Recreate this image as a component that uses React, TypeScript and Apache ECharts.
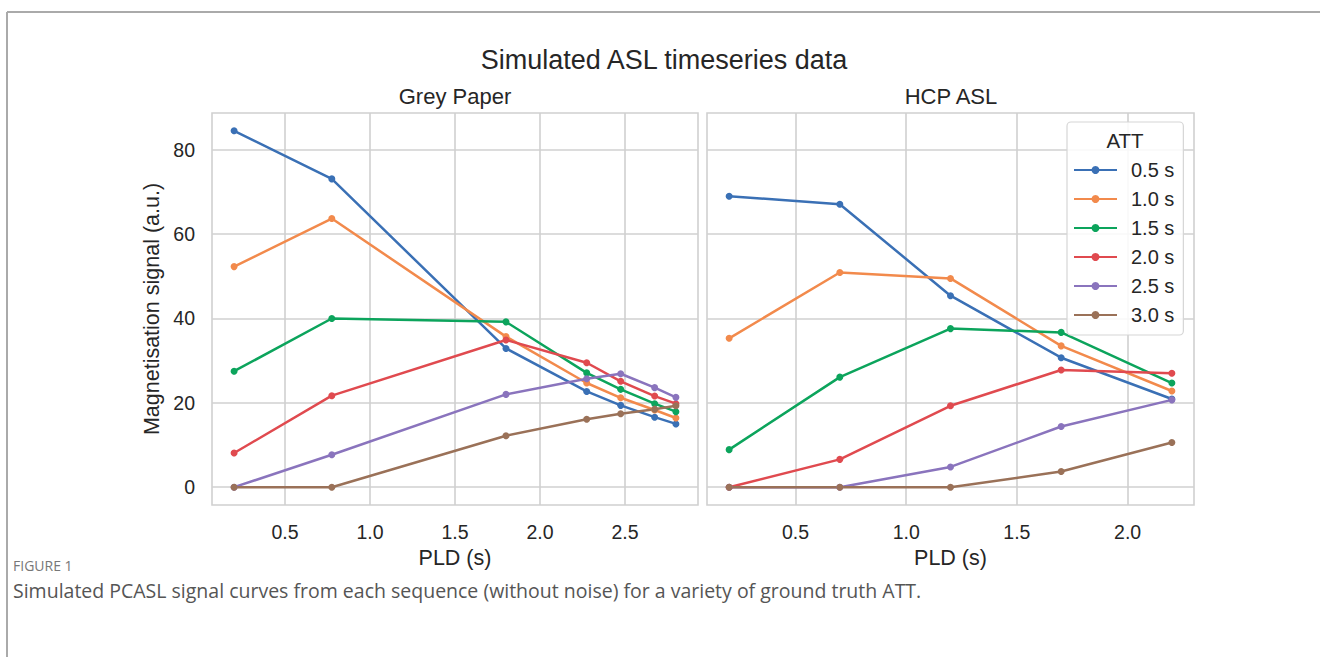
import React, { useEffect, useRef } from "react";
import * as echarts from "echarts";

const attLabels = ["0.5 s", "1.0 s", "1.5 s", "2.0 s", "2.5 s", "3.0 s"];
const colors = ["#3a70b5", "#f28a4c", "#0ca45c", "#e04a4f", "#8a74bd", "#9a7158"];

const greyPld = [0.2, 0.775, 1.8, 2.275, 2.475, 2.675, 2.8];
const greySignal = [
  [84.5, 73.1, 32.9, 22.7, 19.4, 16.6, 15.0],
  [52.3, 63.7, 35.7, 24.7, 21.2, 18.3, 16.4],
  [27.5, 40.0, 39.2, 27.1, 23.2, 19.8, 17.9],
  [8.1, 21.7, 34.9, 29.5, 25.1, 21.6, 19.8],
  [0.0, 7.7, 22.0, 25.7, 26.9, 23.6, 21.3],
  [0.0, 0.0, 12.2, 16.1, 17.4, 18.5, 19.3],
];

const hcpPld = [0.2, 0.7, 1.2, 1.7, 2.2];
const hcpSignal = [
  [69.0, 67.1, 45.4, 30.7, 20.9],
  [35.3, 50.9, 49.5, 33.5, 22.8],
  [8.9, 26.1, 37.6, 36.7, 24.7],
  [0.0, 6.6, 19.3, 27.8, 27.0],
  [0.0, 0.0, 4.8, 14.4, 20.7],
  [0.0, 0.0, 0.0, 3.7, 10.6],
];

const greyTicks = [0.5, 1.0, 1.5, 2.0, 2.5];
const hcpTicks = [0.5, 1.0, 1.5, 2.0];
const yTicks = [0, 20, 40, 60, 80];

const FONT = "'Liberation Sans', Arial, sans-serif";
const GRID_COLOR = "#d0d0d0";
const TEXT = "#262626";

function App() {
  const ref = useRef<HTMLDivElement>(null);
  useEffect(() => {
    document.body.style.margin = "0";
    const chart = echarts.init(ref.current!, null, { renderer: "svg" });

    const xAxisBase = (idx: number, min: number, max: number, ticks: number[]) => ({
      type: "value",
      gridIndex: idx,
      min,
      max,
      name: "PLD (s)",
      nameLocation: "middle",
      nameGap: 42,
      nameTextStyle: { fontSize: 21.5, color: TEXT, fontFamily: FONT },
      axisLine: { show: false },
      axisTick: { show: false, customValues: ticks },
      axisLabel: {
        customValues: ticks,
        fontSize: 19.5,
        color: TEXT,
        fontFamily: FONT,
        margin: 17,
        formatter: (v: number) => v.toFixed(1),
      },
      splitLine: { show: true, lineStyle: { color: GRID_COLOR, width: 1.6 } },
    });

    const yAxisBase = (idx: number, showLabels: boolean) => ({
      type: "value",
      gridIndex: idx,
      min: -4.225,
      max: 88.725,
      name: showLabels ? "Magnetisation signal (a.u.)" : "",
      nameLocation: "middle",
      nameGap: 49,
      nameTextStyle: { fontSize: 21.5, color: TEXT, fontFamily: FONT },
      axisLine: { show: false },
      axisTick: { show: false, customValues: yTicks },
      axisLabel: {
        show: showLabels,
        customValues: yTicks,
        fontSize: 19.5,
        color: TEXT,
        fontFamily: FONT,
        margin: 17,
      },
      splitLine: { show: true, lineStyle: { color: GRID_COLOR, width: 1.6 } },
    });

    const series: any[] = [];
    attLabels.forEach((name, i) => {
      series.push({
        type: "line",
        name,
        xAxisIndex: 0,
        yAxisIndex: 0,
        data: greyPld.map((x, j) => [x, greySignal[i][j]]),
        symbol: "circle",
        symbolSize: 7,
        color: colors[i],
        lineStyle: { width: 2.5, color: colors[i] },
        itemStyle: { color: colors[i] },
      });
    });
    attLabels.forEach((name, i) => {
      series.push({
        type: "line",
        name,
        xAxisIndex: 1,
        yAxisIndex: 1,
        data: hcpPld.map((x, j) => [x, hcpSignal[i][j]]),
        symbol: "circle",
        symbolSize: 7,
        color: colors[i],
        lineStyle: { width: 2.5, color: colors[i] },
        itemStyle: { color: colors[i] },
      });
    });

    chart.setOption({
      animation: false,
      backgroundColor: "#fff",
      grid: [
        { left: 212, top: 113, width: 486, height: 392, show: true, borderColor: GRID_COLOR, borderWidth: 1.6, backgroundColor: "transparent" },
        { left: 707, top: 113, width: 487, height: 392, show: true, borderColor: GRID_COLOR, borderWidth: 1.6, backgroundColor: "transparent" },
      ],
      xAxis: [xAxisBase(0, 0.07, 2.93, greyTicks), xAxisBase(1, 0.1, 2.3, hcpTicks)],
      yAxis: [yAxisBase(0, true), yAxisBase(1, false)],
      legend: {
        data: attLabels,
        orient: "vertical",
        left: 1067,
        top: 122,
        padding: [37, 9, 9, 6],
        itemWidth: 43,
        itemHeight: 10,
        itemGap: 7,
        backgroundColor: "rgba(255,255,255,0.85)",
        borderColor: "#d6d6d6",
        borderWidth: 1.2,
        borderRadius: 4,
        textStyle: { fontSize: 20, lineHeight: 22, color: TEXT, fontFamily: FONT, padding: [0, 0, 0, 9] },
      },
      graphic: [
        { type: "line", shape: { x1: 7, y1: 12, x2: 1320, y2: 12 }, style: { stroke: "#aaaaaa", lineWidth: 2 } },
        { type: "line", shape: { x1: 7, y1: 12, x2: 7, y2: 657 }, style: { stroke: "#aaaaaa", lineWidth: 2 } },
        { type: "text", x: 664, y: 60, style: { text: "Simulated ASL timeseries data", fontSize: 27, fill: TEXT, fontFamily: FONT, textAlign: "center", textVerticalAlign: "middle" } },
        { type: "text", x: 455, y: 96, style: { text: "Grey Paper", fontSize: 22, fill: TEXT, fontFamily: FONT, textAlign: "center", textVerticalAlign: "middle" } },
        { type: "text", x: 951, y: 96, style: { text: "HCP ASL", fontSize: 22, fill: TEXT, fontFamily: FONT, textAlign: "center", textVerticalAlign: "middle" } },
        { type: "text", x: 1125, y: 140, z: 10, style: { text: "ATT", fontSize: 20.5, fill: TEXT, fontFamily: FONT, textAlign: "center", textVerticalAlign: "middle" } },
        { type: "text", x: 13, y: 565, style: { text: "FIGURE 1", fontSize: 14, fill: "#777", fontFamily: "'Open Sans', sans-serif", textAlign: "left", textVerticalAlign: "middle" } },
        { type: "text", x: 13, y: 590, style: { text: "Simulated PCASL signal curves from each sequence (without noise) for a variety of ground truth ATT.", fontSize: 19.5, fill: "#555", fontFamily: "'Open Sans', sans-serif", textAlign: "left", textVerticalAlign: "middle" } },
      ],
      series,
    });
    return () => chart.dispose();
  }, []);
  return <div ref={ref} style={{ width: 1320, height: 657 }} />;
}

export default App;
